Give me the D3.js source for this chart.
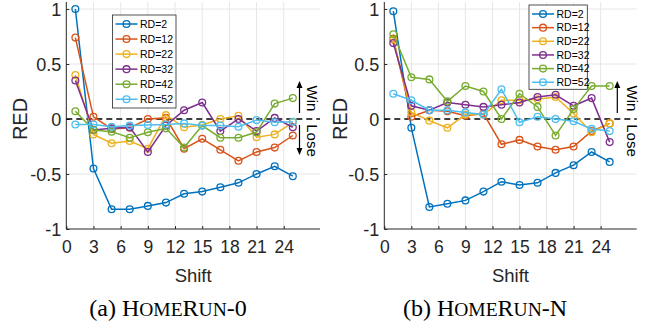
<!DOCTYPE html>
<html>
<head>
<meta charset="utf-8">
<script src="https://cdn.jsdelivr.net/npm/d3@7"></script>
<style>
  body { margin: 0; background: #fff; }
  svg { display: block; }
  text { font-family: "Liberation Sans", Arial, sans-serif; fill: #262626; }
  .cap text, text.cap { font-family: "Liberation Serif", "Times New Roman", serif; fill: #000; }
</style>
</head>
<body>
<div id="chart"></div>
<script>
// shift values on the x axis
var shifts = [1, 3, 5, 7, 9, 11, 13, 15, 17, 19, 21, 23, 25];
var rdNames = ["RD=2", "RD=12", "RD=22", "RD=32", "RD=42", "RD=52"];
var colors = ["#0072BD", "#D95319", "#EDB120", "#7E2F8E", "#77AC30", "#4DBEEE"];
var xTicks = [0, 3, 6, 9, 12, 15, 18, 21, 24];
var yTicks = [-1, -0.5, 0, 0.5, 1];

// (a) HomeRun-0
var h0_rd2  = [1.00, -0.45, -0.82, -0.82, -0.79, -0.76, -0.68, -0.66, -0.62, -0.58, -0.50, -0.43, -0.52];
var h0_rd12 = [0.74, 0.02, -0.09, -0.08, 0.00, 0.01, -0.27, -0.18, -0.28, -0.38, -0.30, -0.26, -0.15];
var h0_rd22 = [0.40, -0.14, -0.22, -0.20, -0.27, 0.035, -0.075, -0.055, 0.00, 0.03, -0.165, -0.14, -0.03];
var h0_rd32 = [0.35, -0.10, -0.085, -0.075, -0.30, -0.06, 0.08, 0.15, -0.11, 0.00, -0.11, 0.01, -0.075];
var h0_rd42 = [0.07, -0.10, -0.115, -0.17, -0.12, -0.085, -0.26, -0.06, -0.17, -0.17, -0.12, 0.14, 0.19];
var h0_rd52 = [-0.05, -0.05, -0.07, -0.06, -0.055, -0.05, -0.04, -0.06, -0.06, -0.07, -0.01, -0.03, -0.025];

// (b) HomeRun-N
var hn_rd2  = [0.98, -0.08, -0.80, -0.77, -0.74, -0.66, -0.57, -0.60, -0.58, -0.49, -0.42, -0.30, -0.39];
var hn_rd12 = [0.73, 0.02, 0.08, 0.07, 0.03, 0.05, -0.23, -0.19, -0.25, -0.28, -0.25, -0.11, -0.04];
var hn_rd22 = [0.72, 0.06, -0.015, -0.08, 0.04, 0.04, 0.17, 0.17, 0.18, 0.20, 0.05, -0.12, -0.04];
var hn_rd32 = [0.69, 0.12, 0.08, 0.15, 0.13, 0.11, 0.13, 0.15, 0.20, 0.22, 0.12, 0.19, -0.21];
var hn_rd42 = [0.77, 0.38, 0.36, 0.16, 0.30, 0.25, 0.00, 0.23, 0.11, -0.15, 0.09, 0.30, 0.30];
var hn_rd52 = [0.23, 0.17, 0.08, 0.08, 0.06, 0.04, 0.27, -0.03, 0.02, 0.00, -0.02, -0.09, -0.11];

var svg = d3.select("#chart").append("svg")
    .attr("width", 652)
    .attr("height", 324);

function drawPanel(opts) {
  var x = d3.scaleLinear().domain([0, 28]).range([opts.left, opts.right]);
  var y = d3.scaleLinear().domain([-1, 1]).range([229, 9]);
  var g = svg.append("g");

  // grid
  g.selectAll(".vg").data(xTicks.slice(1)).enter().append("line")
      .attr("x1", d => x(d)).attr("x2", d => x(d))
      .attr("y1", y(-1)).attr("y2", 2)
      .attr("stroke", "#e6e6e6").attr("stroke-width", 1);
  g.selectAll(".hg").data([-0.5, 0.5, 1]).enter().append("line")
      .attr("x1", x(0)).attr("x2", x(28))
      .attr("y1", d => y(d)).attr("y2", d => y(d))
      .attr("stroke", "#e6e6e6").attr("stroke-width", 1);

  // axes
  var xAxis = g.append("g").attr("transform", "translate(0," + y(-1) + ")")
      .call(d3.axisBottom(x).tickValues(xTicks).tickSizeInner(-3).tickSizeOuter(0).tickPadding(12));
  var yAxis = g.append("g").attr("transform", "translate(" + x(0) + ",0)")
      .call(d3.axisLeft(y).tickValues(yTicks).tickSizeInner(-3).tickSizeOuter(0).tickPadding(5)
        .tickFormat(d => d === 0 ? "0" : String(d)));
  [xAxis, yAxis].forEach(function(a) {
    a.select(".domain").attr("stroke", "#262626").attr("stroke-width", 1);
    a.selectAll(".tick line").attr("stroke", "#262626");
    a.selectAll("text").attr("fill", "#262626")
        .style("font-family", '"Liberation Sans", Arial, sans-serif');
  });
  xAxis.selectAll("text").style("font-size", "17.5px");
  yAxis.selectAll("text").style("font-size", "18px").attr("dy", "0.36em");
  yAxis.select(".domain").attr("d", "M0," + y(-1) + "V2");
  xAxis.select(".domain").attr("d", "M" + x(0) + ",0H" + x(28));

  // zero line
  g.append("line")
      .attr("x1", x(0)).attr("x2", x(28))
      .attr("y1", y(0)).attr("y2", y(0))
      .attr("stroke", "#000").attr("stroke-width", 1.5)
      .attr("stroke-dasharray", "6,4");

  // series
  var line = d3.line().x((d, i) => x(shifts[i])).y(d => y(d));
  opts.series.forEach(function(s, k) {
    var sg = g.append("g");
    sg.append("path").datum(s)
        .attr("d", line)
        .attr("fill", "none")
        .attr("stroke", colors[k]).attr("stroke-width", 1.5);
    sg.selectAll("circle").data(s).enter().append("circle")
        .attr("cx", (d, i) => x(shifts[i]))
        .attr("cy", d => y(d))
        .attr("r", 3.4)
        .attr("fill", "none")
        .attr("stroke", colors[k]).attr("stroke-width", 1.3);
  });

  // labels
  g.append("text")
      .attr("transform", "translate(" + opts.ylabX + "," + y(0) + ") rotate(-90)")
      .attr("text-anchor", "middle")
      .style("font-size", "20px")
      .text("RED");
  g.append("text")
      .attr("x", (opts.left + opts.right) / 2).attr("y", 282)
      .attr("text-anchor", "middle")
      .style("font-size", "18.5px")
      .text("Shift");

  // win / lose
  var ax = opts.arrowX;
  g.append("line").attr("x1", ax).attr("x2", ax).attr("y1", 113).attr("y2", 85)
      .attr("stroke", "#000").attr("stroke-width", 1.2);
  g.append("path").attr("d", "M" + (ax - 3) + ",88L" + ax + ",81L" + (ax + 3) + ",88Z").attr("fill", "#000");
  if (opts.downArrow) {
    g.append("line").attr("x1", ax).attr("x2", ax).attr("y1", 125).attr("y2", 151)
        .attr("stroke", "#000").attr("stroke-width", 1.2);
    g.append("path").attr("d", "M" + (ax - 3) + ",148L" + ax + ",155L" + (ax + 3) + ",148Z").attr("fill", "#000");
  }
  g.append("text")
      .attr("transform", "translate(" + opts.winX + ",98.5) rotate(90)")
      .attr("text-anchor", "middle")
      .style("font-size", "15px").style("fill", "#000")
      .text("Win");
  g.append("text")
      .attr("transform", "translate(" + opts.winX + ",140.5) rotate(90)")
      .attr("text-anchor", "middle")
      .style("font-size", "15px").style("fill", "#000")
      .text("Lose");

  // legend
  var lg = g.append("g").attr("transform", "translate(" + opts.legX + "," + opts.legY + ")");
  lg.append("rect")
      .attr("width", opts.legW).attr("height", opts.legH)
      .attr("fill", "#fff").attr("stroke", "#262626").attr("stroke-width", 0.8);
  rdNames.forEach(function(name, k) {
    var cy = opts.legFirst + k * opts.legStep;
    lg.append("line").attr("x1", 3).attr("x2", 25).attr("y1", cy).attr("y2", cy)
        .attr("stroke", colors[k]).attr("stroke-width", 1.5);
    lg.append("circle").attr("cx", 14).attr("cy", cy).attr("r", 3.4)
        .attr("fill", "none").attr("stroke", colors[k]).attr("stroke-width", 1.3);
    lg.append("text").attr("x", 27.5).attr("y", cy).attr("dy", "0.35em")
        .style("font-size", "10.5px").style("fill", "#000")
        .text(name);
  });

  // caption with small caps
  var cap = svg.append("text").attr("class", "cap")
      .attr("x", opts.capX).attr("y", 316)
      .attr("text-anchor", "middle")
      .style("font-size", "24px");
  cap.append("tspan").text(opts.capPre + " H");
  cap.append("tspan").style("font-size", "19.5px").text("OME");
  cap.append("tspan").text("R");
  cap.append("tspan").style("font-size", "19.5px").text("UN");
  cap.append("tspan").text(opts.capPost);
}

drawPanel({
  left: 66.3, right: 320, ylabX: 27,
  series: [h0_rd2, h0_rd12, h0_rd22, h0_rd32, h0_rd42, h0_rd52],
  arrowX: 299.5, winX: 307, downArrow: true,
  legX: 112.5, legY: 15, legW: 63.5, legH: 93, legFirst: 9, legStep: 15.05,
  capX: 168, capPre: "(a)", capPost: "-0"
});
drawPanel({
  left: 384.3, right: 636.7, ylabX: 347,
  series: [hn_rd2, hn_rd12, hn_rd22, hn_rd32, hn_rd42, hn_rd52],
  arrowX: 617.3, winX: 626.5, downArrow: false,
  legX: 529, legY: 5, legW: 58.3, legH: 84.3, legFirst: 9, legStep: 13.65,
  capX: 485, capPre: "(b)", capPost: "-N"
});
</script>
</body>
</html>
